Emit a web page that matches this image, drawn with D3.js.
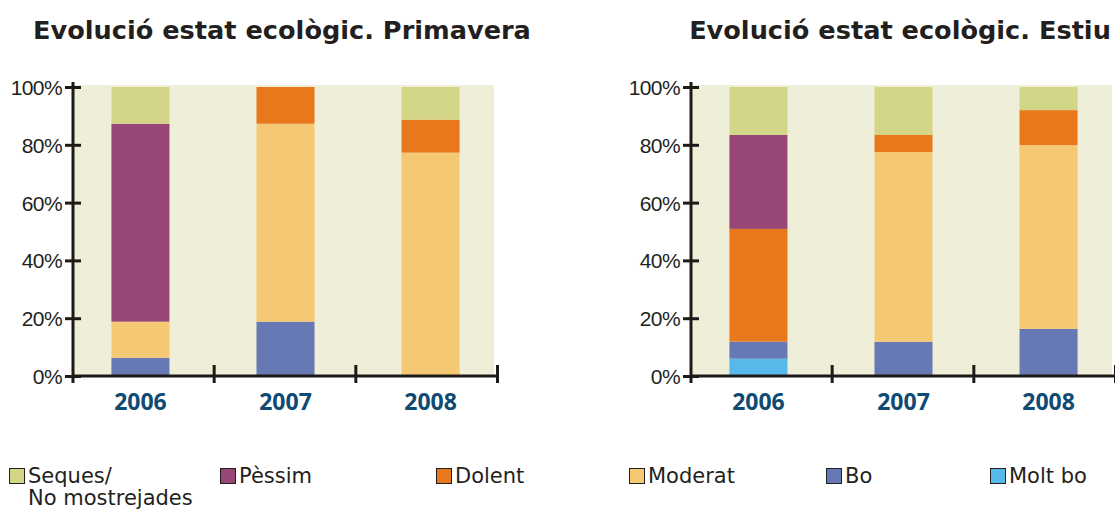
<!DOCTYPE html>
<html>
<head>
<meta charset="utf-8">
<script src="https://cdn.jsdelivr.net/npm/d3@7"></script>
<style>
  body { margin: 0; background: #fff; }
  svg { display: block; }
</style>
</head>
<body>
<div id="chart"></div>
<script>
'use strict';

// data (percent of sites)
var years = ['2006', '2007', '2008'];
var states = ['Molt bo', 'Bo', 'Moderat', 'Dolent', 'Pèssim', 'Seques'];
var yTicks = [0, 20, 40, 60, 80, 100];

// one row per year, columns follow `states` (bottom to top)
var primavera = [
    [0, 6.3, 12.5, 0, 68.5, 12.7],
    [0, 18.8, 68.5, 12.7, 0, 0],
    [0, 0, 77.3, 11.4, 0, 11.3]
];
var estiu = [
    [6.0, 5.9, 0, 39.0, 32.5, 16.6],
    [0, 11.8, 65.7, 5.9, 0, 16.6],
    [0, 16.3, 63.6, 12.1, 0, 8.0]
];

var titles = ['Evolució estat ecològic. Primavera', 'Evolució estat ecològic. Estiu'];
var legendOrder = ['Seques', 'Pèssim', 'Dolent', 'Moderat', 'Bo', 'Molt bo'];
var legendLabels = {'Seques': ['Seques/', 'No mostrejades']};

var colors = {
    'Molt bo': '#55b9ea',
    'Bo': '#6679b5',
    'Moderat': '#f5c874',
    'Dolent': '#e8781b',
    'Pèssim': '#984676',
    'Seques': '#d3d587'
};

var width = 1115,
    height = 509;

var spec = {
    axisColor: '#1e1a17',
    bgColor: '#efeed8',
    plotW: 425,
    top: 87,
    bottom: 376,
    chartX: [73, 691],
    titleX: [282, 900],
    legendX: [9, 220, 436, 629, 826, 990]
};

var svg = d3.select('#chart').append('svg')
    .attr('width', width).attr('height', height)
    .attr('viewBox', '0 0 '+width+' '+height);

var x = d3.scaleBand().domain(years)
    .range([0, spec.plotW])
    .paddingInner(0.6).paddingOuter(0.265);
var y = d3.scaleLinear().domain([0, 100]).range([spec.bottom, spec.top]);

var stack = d3.stack().keys(d3.range(states.length));

[primavera, estiu].forEach(function(season, si){
    var g = svg.append('g')
        .attr('transform', 'translate('+spec.chartX[si]+',0)');

    svg.append('text')
        .attr('x', spec.titleX[si]).attr('y', 39)
        .attr('text-anchor', 'middle')
        .style('font-family', 'DejaVu Sans, sans-serif')
        .style('font-weight', 'bold').style('font-size', '25.6px')
        .style('fill', '#231f20')
        .text(titles[si]);

    // plot background
    g.append('rect')
        .attr('x', 1).attr('y', y(100) - 2)
        .attr('width', spec.plotW - 5).attr('height', y(0) - y(100) + 2)
        .style('fill', spec.bgColor);

    var series = stack(season);
    g.selectAll('g.series').data(series).enter().append('g')
        .attr('class', 'series')
        .style('fill', function(d){ return colors[states[d.key]]; })
      .selectAll('rect').data(function(d){ return d; }).enter().append('rect')
        .attr('x', function(d, i){ return x(years[i]); })
        .attr('width', x.bandwidth())
        .attr('y', function(d){ return y(d[1]); })
        .attr('height', function(d){ return y(d[0]) - y(d[1]); });

    // y axis
    var yAxis = g.append('g').call(d3.axisLeft(y)
        .tickValues(yTicks).tickFormat(function(d){ return d+'%'; }));
    yAxis.select('.domain').remove();
    yAxis.selectAll('.tick line')
        .attr('x1', -8).attr('x2', 8)
        .style('stroke', spec.axisColor).style('stroke-width', 3);
    yAxis.selectAll('.tick text')
        .attr('x', -11).attr('dy', '0.36em')
        .style('font-family', 'Liberation Sans, Arial, sans-serif')
        .style('font-size', '21px').style('letter-spacing', '-0.6px')
        .style('fill', '#231f20');
    g.append('line')
        .attr('x1', 0).attr('x2', 0)
        .attr('y1', spec.top - 5).attr('y2', spec.bottom + 7)
        .style('stroke', spec.axisColor).style('stroke-width', 3);

    // x axis, separators split the axis into equal parts
    g.append('line')
        .attr('x1', 0).attr('x2', spec.plotW)
        .attr('y1', spec.bottom).attr('y2', spec.bottom)
        .style('stroke', spec.axisColor).style('stroke-width', 3);
    g.selectAll('line.sep').data(years).enter().append('line')
        .attr('class', 'sep')
        .attr('x1', function(d, i){ return spec.plotW*(i+1)/years.length - 0.5; })
        .attr('x2', function(d, i){ return spec.plotW*(i+1)/years.length - 0.5; })
        .attr('y1', spec.bottom - 11).attr('y2', spec.bottom + 7)
        .style('stroke', spec.axisColor).style('stroke-width', 3);

    var xAxis = g.append('g')
        .attr('transform', 'translate(0,'+spec.bottom+')')
        .call(d3.axisBottom(x).tickSize(0));
    xAxis.select('.domain').remove();
    xAxis.selectAll('.tick text')
        .attr('y', 34).attr('dy', 0)
        .style('font-family', 'Open Sans, sans-serif')
        .style('font-weight', 'bold').style('font-size', '23px')
        .style('fill', '#0f4a73');
});

// legend
var legend = svg.selectAll('g.legend').data(legendOrder).enter().append('g')
    .attr('class', 'legend')
    .attr('transform', function(d, i){ return 'translate('+spec.legendX[i]+',468)'; });
legend.append('rect')
    .attr('x', 0.5).attr('y', 0.5)
    .attr('width', 15).attr('height', 15)
    .style('fill', function(d){ return colors[d]; })
    .style('stroke', '#231f20').style('stroke-width', 1);
legend.append('text')
    .attr('x', 19).attr('y', 15)
    .style('font-family', 'DejaVu Sans, sans-serif')
    .style('font-size', '21px')
    .style('fill', '#231f20')
    .selectAll('tspan').data(function(d){ return legendLabels[d] || [d]; })
    .enter().append('tspan')
        .attr('x', 19)
        .attr('dy', function(d, i){ return i ? 22 : 0; })
        .text(function(d){ return d; });
</script>
</body>
</html>
